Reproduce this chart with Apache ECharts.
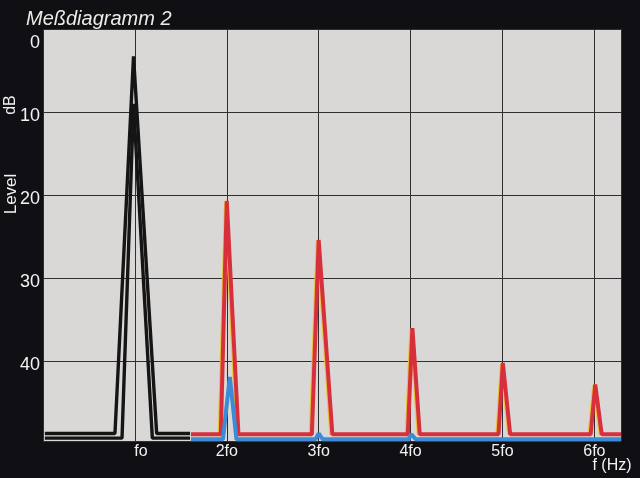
<!DOCTYPE html>
<html>
<head>
<meta charset="utf-8">
<script src="https://cdn.jsdelivr.net/npm/echarts@6/dist/echarts.min.js"></script>
<style>
html,body{margin:0;padding:0;background:#0f0f14;}
#chart{width:640px;height:478px;}
</style>
</head>
<body>
<div id="chart"></div>
<script>
// ---- data ----
const harmonicLabels = ['fo', '2fo', '3fo', '4fo', '5fo', '6fo'];
const levelTicks = [0, 10, 20, 30, 40];

// fundamental trace (black, drawn as a double line): [frequency in multiples of fo, level dB]
const fundamentalOuter = [[0.02, 48.7], [0.783, 48.7], [0.985, 3.3], [1.237, 48.7], [1.6, 48.7]];
const fundamentalInner = [[0.02, 49.25], [0.86, 49.25], [0.985, 9.0], [1.19, 49.25], [1.6, 49.25]];

// harmonic traces
const redTrace = [[1.61, 48.8], [1.935, 48.8], [2.0, 20.7], [2.127, 48.8],
  [2.926, 48.8], [3.0, 25.4], [3.149, 48.8],
  [3.97, 48.8], [4.02, 36.0], [4.10, 48.8],
  [4.957, 48.8], [5.004, 40.2], [5.084, 48.8],
  [5.96, 48.8], [6.01, 42.8], [6.08, 48.8], [6.29, 48.8]];
const yellowTrace = [[1.61, 48.8], [1.91, 48.8], [1.978, 20.8], [2.10, 48.8],
  [2.90, 48.8], [2.977, 25.5], [3.124, 48.8],
  [3.945, 48.8], [3.995, 36.1], [4.075, 48.8],
  [4.932, 48.8], [4.98, 40.3], [5.06, 48.8],
  [5.935, 48.8], [5.985, 42.9], [6.055, 48.8], [6.29, 48.8]];
const blueTrace = [[1.61, 49.4], [1.958, 49.4], [2.033, 41.9], [2.105, 49.4],
  [2.965, 49.4], [3.0, 48.7], [3.045, 49.4],
  [3.975, 49.4], [4.01, 48.8], [4.055, 49.4], [6.29, 49.4]];

const chart = echarts.init(document.getElementById('chart'), null, {renderer: 'canvas'});
const FONT = 'Liberation Sans, Arial, Helvetica, sans-serif';
const PLOT_BG = '#dad8d7';

const lineSeries = (data, color, width, z) => ({
  type: 'line', data: data, showSymbol: false, symbol: 'none', z: z,
  lineStyle: {color: color, width: width, join: 'bevel'}, animation: false
});

chart.setOption({
  backgroundColor: '#0f0f14',
  animation: false,
  title: {
    text: 'Meßdiagramm 2', left: 21, top: 4,
    textStyle: {color: '#ecebe4', fontSize: 20, fontStyle: 'italic', fontWeight: 'normal', fontFamily: FONT}
  },
  grid: {
    left: 43, right: 19, top: 29, bottom: 37,
    show: true, backgroundColor: PLOT_BG, borderWidth: 0,
    containLabel: false, outerBoundsMode: 'none'
  },
  xAxis: {
    type: 'value', min: 0, max: 6.29, interval: 1,
    axisLine: {show: false}, axisTick: {show: false},
    splitLine: {show: true, lineStyle: {color: '#2f2f2f', width: 1}},
    axisLabel: {
      color: '#f2f2f2', fontSize: 16, fontFamily: FONT, margin: 3,
      showMinLabel: false, showMaxLabel: false,
      formatter: function (v) {
        const i = Math.round(v);
        if (Math.abs(v - i) > 1e-6 || i < 1 || i > harmonicLabels.length) return '';
        return i === 1 ? '{f|' + harmonicLabels[0] + '}' : harmonicLabels[i - 1];
      },
      rich: {f: {color: '#f2f2f2', fontSize: 16, fontFamily: FONT, padding: [0, 0, 0, 12]}}
    }
  },
  yAxis: {
    type: 'value', inverse: true, min: 0, max: 49.6, interval: 10,
    axisLine: {show: false}, axisTick: {show: false},
    splitLine: {show: true, lineStyle: {color: '#2f2f2f', width: 1}},
    axisLabel: {
      color: '#f2f2f2', fontSize: 18, fontFamily: FONT, margin: 3,
      formatter: function (v) {
        if (levelTicks.indexOf(v) < 0) return '';
        return v === 0 ? '{z|0}' : '{n|' + v + '}';
      },
      rich: {
        z: {color: '#f2f2f2', fontSize: 18, fontFamily: FONT, padding: [28, 0, 0, 0]},
        n: {color: '#f2f2f2', fontSize: 18, fontFamily: FONT, padding: [8, 0, 0, 0]}
      }
    }
  },
  graphic: [
    {type: 'text', x: 11, y: 105, rotation: Math.PI / 2,
      style: {text: 'dB', fill: '#f2f2f2', fontSize: 16, fontFamily: FONT, align: 'center', verticalAlign: 'middle'}},
    {type: 'text', x: 11, y: 194, rotation: Math.PI / 2,
      style: {text: 'Level', fill: '#f2f2f2', fontSize: 17, fontFamily: FONT, align: 'center', verticalAlign: 'middle'}},
    {type: 'text', x: 612, y: 466,
      style: {text: 'f (Hz)', fill: '#f2f2f2', fontSize: 16, fontFamily: FONT, align: 'center', verticalAlign: 'middle'}}
  ],
  series: [
    lineSeries(yellowTrace, '#e9c43c', 1.6, 3),
    lineSeries(redTrace, '#d7303c', 4, 4),
    lineSeries(blueTrace, '#3b8bd6', 4, 5),
    lineSeries(fundamentalOuter, '#151515', 3.4, 6),
    lineSeries(fundamentalInner, '#151515', 3.4, 6)
  ]
});
</script>
</body>
</html>
